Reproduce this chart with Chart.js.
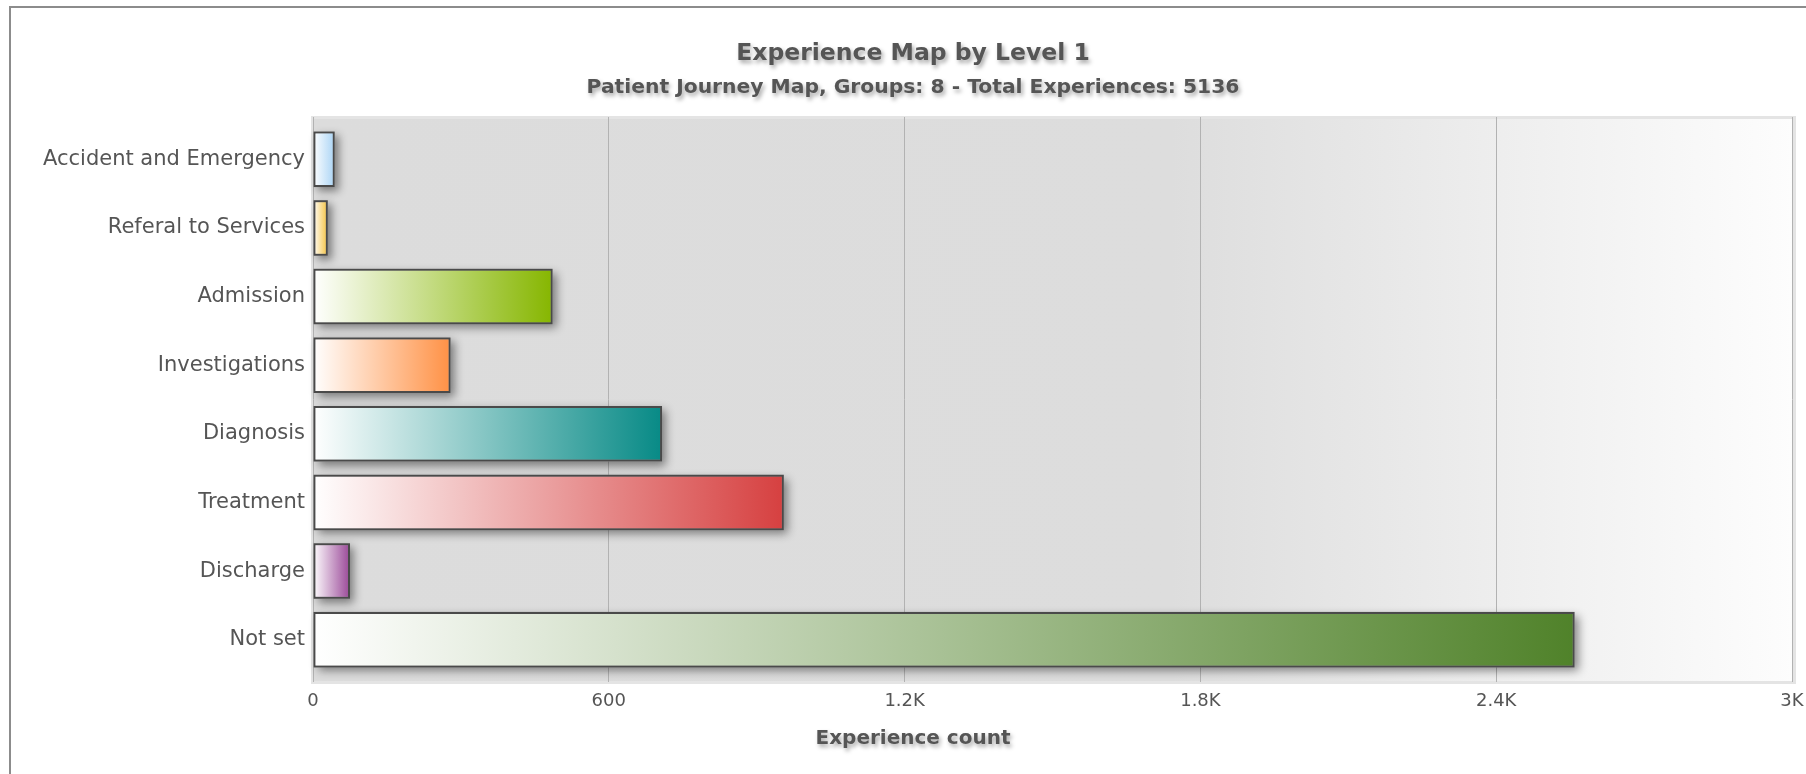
<!DOCTYPE html>
<html>
<head>
<meta charset="utf-8">
<script src="https://cdn.jsdelivr.net/npm/chart.js@4/dist/chart.umd.min.js"></script>
<style>
  html, body { margin: 0; padding: 0; background: #fff; overflow: hidden; }
  #frame { position: absolute; left: 9px; top: 6px; width: 1830px; height: 800px; border: 2px solid #8c8c8c; background: #fff; }
  #wrap { position: absolute; left: 0; top: 0; width: 1826px; height: 774px; }
</style>
</head>
<body>
<div id="frame"></div>
<div id="wrap"><canvas id="chart" width="1826" height="774"></canvas></div>
<script>
// data
const categories = ['Accident and Emergency', 'Referal to Services', 'Admission', 'Investigations',
                    'Diagnosis', 'Treatment', 'Discharge', 'Not set'];
const counts     = [44, 30, 486, 279, 708, 955, 75, 2559];
const barColors  = ['#aad4f5', '#f5c23e', '#86b600', '#ff9145', '#078a86', '#d64040', '#9a4898', '#50822a'];
const tickLabels = ['0', '600', '1.2K', '1.8K', '2.4K', '3K'];

const titleText    = 'Experience Map by Level 1';
const subtitleText = 'Patient Journey Map, Groups: 8 - Total Experiences: 5136';
const xTitleText   = 'Experience count';

const FONT = '"DejaVu Sans", Verdana, sans-serif';
const TXT  = '#555555';

// gradient fill: white at the bar base, full colour at its end
function barFill(ctx) {
  const i = ctx.dataIndex;
  const chart = ctx.chart;
  if (!chart.chartArea || ctx.type !== 'data') return barColors[i];
  const xs = chart.scales.x;
  const x0 = xs.getPixelForValue(0);
  const x1 = xs.getPixelForValue(counts[i]);
  const g = chart.ctx.createLinearGradient(x0, 0, x1, 0);
  g.addColorStop(0, '#ffffff');
  g.addColorStop(1, barColors[i]);
  return g;
}

// plot canvas background, slightly bigger than the chart area
const plotBg = {
  id: 'plotBg',
  beforeDraw(chart) {
    const { ctx, chartArea: a } = chart;
    const l = a.left - 1, t = a.top - 8, r = a.right + 2, b = a.bottom + 8;
    const g = ctx.createLinearGradient(l, 0, r, 0);
    g.addColorStop(0, '#dcdcdc');
    g.addColorStop(0.58, '#dddddd');
    g.addColorStop(1, '#fdfdfd');
    ctx.save();
    ctx.fillStyle = g;
    ctx.fillRect(l, t, r - l, b - t);
    ctx.strokeStyle = '#e4e4e4';
    ctx.lineWidth = 3;
    ctx.strokeRect(l + 0.5, t + 0.5, r - l, b - t);
    ctx.restore();
  }
};

// soft drop shadow under each bar, taken from the bar elements
const barShadow = {
  id: 'barShadow',
  beforeDatasetsDraw(chart) {
    const { ctx } = chart;
    const meta = chart.getDatasetMeta(0);
    ctx.save();
    ctx.shadowColor = 'rgba(0,0,0,0.45)';
    ctx.shadowBlur = 9;
    ctx.shadowOffsetX = 4;
    ctx.shadowOffsetY = 4;
    ctx.fillStyle = '#888';
    meta.data.forEach(bar => {
      const p = bar.getProps(['x', 'y', 'base', 'height'], true);
      ctx.fillRect(p.base, p.y - p.height / 2, p.x - p.base, p.height);
    });
    ctx.restore();
  }
};

// titles with a text shadow, centred on the whole chart
const titles = {
  id: 'titles',
  afterDraw(chart) {
    const { ctx, width } = chart;
    const cx = width / 2;
    const txt = (s, y, size) => {
      ctx.font = 'bold ' + size + 'px ' + FONT;
      ctx.fillText(s, cx, y);
    };
    ctx.save();
    ctx.textAlign = 'center';
    ctx.textBaseline = 'middle';
    ctx.fillStyle = TXT;
    ctx.shadowColor = 'rgba(0,0,0,0.35)';
    ctx.shadowBlur = 4;
    ctx.shadowOffsetX = 2;
    ctx.shadowOffsetY = 3;
    txt(titleText, 54, 23.5);
    txt(subtitleText, 88, 20.3);
    txt(xTitleText, chart.scales.x.bottom + 25, 20);
    ctx.restore();
  }
};

const gridColor = '#b2b2b2';

new Chart(document.getElementById('chart'), {
  type: 'bar',
  data: {
    labels: categories,
    datasets: [{
      data: counts,
      backgroundColor: barFill,
      borderColor: '#4a4a4a',
      borderWidth: 2,
      borderSkipped: false,
      categoryPercentage: 0.81,
      barPercentage: 1
    }]
  },
  options: {
    indexAxis: 'y',
    responsive: false,
    devicePixelRatio: 1,
    animation: false,
    layout: { padding: { left: 0, right: 34, top: 117, bottom: 60 } },
    plugins: { legend: { display: false }, tooltip: { enabled: false } },
    scales: {
      x: {
        type: 'linear', position: 'bottom', min: 0, max: 3000,
        afterFit: s => { s.height = 40; },
        grid: { color: gridColor, lineWidth: 1, drawTicks: true, tickLength: 8 },
        border: { display: false },
        ticks: {
          stepSize: 600, padding: 9, color: TXT, maxRotation: 0,
          font: { family: FONT, size: 18 },
          callback: (v, i) => tickLabels[i]
        }
      },
      x2: {
        type: 'linear', position: 'top', min: 0, max: 3000,
        afterFit: s => { s.height = 8; },
        grid: { color: gridColor, lineWidth: 1, drawOnChartArea: false, drawTicks: true, tickLength: 8 },
        border: { display: false },
        ticks: { display: false, stepSize: 600 }
      },
      y: {
        afterFit: s => { s.width = 313; },
        grid: { display: false, drawTicks: false },
        border: { display: false },
        ticks: { padding: 8, color: TXT, font: { family: FONT, size: 21 } }
      }
    }
  },
  plugins: [plotBg, barShadow, titles]
});
</script>
</body>
</html>
